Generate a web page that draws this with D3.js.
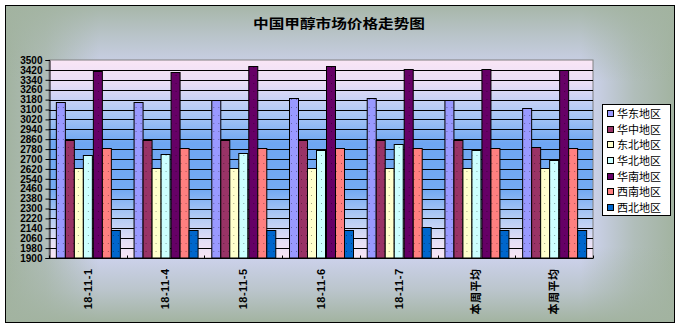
<!DOCTYPE html>
<html><head><meta charset="utf-8">
<script src="https://cdn.jsdelivr.net/npm/d3@7/dist/d3.min.js"></script>
<style>body{margin:0;background:#fff}svg{display:block}</style>
</head><body>
<script>
const categories = ["18-11-1","18-11-4","18-11-5","18-11-6","18-11-7","本周平均","本周平均"];
const seriesNames = ["华东地区","华中地区","东北地区","华北地区","华南地区","西南地区","西北地区"];
const huadong  = [3160,3160,3180,3190,3190,3180,3110];
const huazhong = [2850,2850,2850,2850,2850,2850,2800];
const dongbei  = [2630,2630,2630,2630,2630,2630,2630];
const huabei   = [2730,2740,2750,2770,2820,2770,2690];
const huanan   = [3410,3400,3450,3450,3430,3430,3420];
const xinan    = [2790,2790,2790,2790,2790,2790,2790];
const xibei    = [2130,2130,2130,2130,2150,2130,2130];
const yTicks = d3.range(1900, 3501, 80);
const colors = ["#9999ff","#993366","#ffffcc","#ccffff","#660066","#ff8080","#0066cc"];
const seriesValues = [huadong,huazhong,dongbei,huabei,huanan,xinan,xibei];

const W = 681, H = 328;
const svg = d3.select("body").append("svg").attr("width", W).attr("height", H);
const defs = svg.append("defs");

// outer "from center" rectangular gradient, built from two edge fades
const hg = defs.append("linearGradient").attr("id","hG").attr("x1",0).attr("y1",0).attr("x2",1).attr("y2",0);
[[0,1],[0.06,0.7],[0.14,0],[0.86,0],[0.94,0.7],[1,1]].forEach(s=>hg.append("stop").attr("offset",s[0]).attr("stop-color","#a2b3a0").attr("stop-opacity",s[1]));
const vg = defs.append("linearGradient").attr("id","vG").attr("x1",0).attr("y1",0).attr("x2",0).attr("y2",1);
[[0,0.9],[0.1,0.5],[0.24,0],[0.76,0],[0.9,0.5],[1,1]].forEach(s=>vg.append("stop").attr("offset",s[0]).attr("stop-color","#a2b3a0").attr("stop-opacity",s[1]));
// plot gradient (vertical)
const pg = defs.append("linearGradient").attr("id","plotG").attr("x1",0).attr("y1",0).attr("x2",0).attr("y2",1);
[[0,"#fae6f6"],[0.12,"#e8def6"],[0.28,"#a8c6f4"],[0.42,"#6ea6f2"],[0.66,"#74aaf2"],[0.8,"#b4ccf4"],[0.92,"#e6e0f6"],[1,"#fae6f6"]].forEach(s=>pg.append("stop").attr("offset",s[0]).attr("stop-color",s[1]));
// dot pattern
const pat = defs.append("pattern").attr("id","dots").attr("width",5).attr("height",8).attr("patternUnits","userSpaceOnUse");
pat.append("rect").attr("x",2).attr("y",3).attr("width",1).attr("height",1).attr("fill","rgba(0,0,0,0.35)");

svg.append("rect").attr("x",5.5).attr("y",5.5).attr("width",669).attr("height",317).attr("fill","#d2d6f6");
svg.append("rect").attr("x",5.5).attr("y",5.5).attr("width",669).attr("height",317).attr("fill","url(#hG)");
svg.append("rect").attr("x",5.5).attr("y",5.5).attr("width",669).attr("height",317).attr("fill","url(#vG)");
svg.append("rect").attr("x",5.5).attr("y",5.5).attr("width",669).attr("height",317)
  .attr("fill","none").attr("stroke","#000").attr("stroke-width",1);

const L = 49, R = 593, T = 60, B = 258;
const x0 = d3.scaleBand().domain(d3.range(categories.length)).range([L, R]).paddingInner(1.5/8.5).paddingOuter(0.75/8.5);
const x1 = d3.scaleBand().domain(d3.range(seriesNames.length)).range([0, x0.bandwidth()]);
const y = d3.scaleLinear().domain([1900, 3500]).range([B, T]);

svg.append("rect").attr("x",L).attr("y",T).attr("width",R-L).attr("height",B-T)
  .attr("fill","url(#plotG)").attr("stroke","#808080").attr("stroke-width",1);

// gridlines
svg.append("g").selectAll("line").data(yTicks.slice(1,-1)).join("line")
  .attr("x1",L).attr("x2",R).attr("y1",d=>Math.round(y(d))+0.5).attr("y2",d=>Math.round(y(d))+0.5)
  .attr("stroke","#000").attr("stroke-width",1);

// bars
const groups = svg.append("g").selectAll("g").data(categories).join("g")
  .attr("transform",(d,i)=>`translate(${x0(i)},0)`);
groups.each(function(c,i){
  const g = d3.select(this);
  seriesValues.forEach((vals,s)=>{
    const bx = Math.round(x1(s))+0.5, by = Math.round(y(vals[i]))+0.5;
    const bw = Math.round(x1.bandwidth()), bh = B - by;
    g.append("rect").attr("x",bx).attr("y",by).attr("width",bw).attr("height",bh)
      .attr("fill",colors[s]).attr("stroke","#000").attr("stroke-width",1);
    g.append("rect").attr("x",bx).attr("y",by).attr("width",bw).attr("height",bh)
      .attr("fill","url(#dots)");
  });
});

// y axis
const yAxis = d3.axisLeft(y).tickValues(yTicks).tickFormat(d3.format("d")).tickSize(4).tickPadding(3);
const ya = svg.append("g").attr("transform",`translate(${L+0.5},0)`).call(yAxis);
ya.select(".domain").attr("stroke","#000");
ya.selectAll(".tick line").attr("stroke","#000");
ya.selectAll("text").attr("font-family","Liberation Sans, Arial, sans-serif").attr("font-weight","bold").attr("font-size","10px").attr("fill","#000");

// x axis
const xa = svg.append("g").attr("transform",`translate(0,${B+0.5})`);
xa.append("line").attr("x1",L).attr("x2",R).attr("stroke","#000");
const xb = d3.range(categories.length+1).map(i=> i<categories.length ? x0(i)-x0.step()*x0.paddingInner()/2 : R);
xa.selectAll("line.tk").data(xb).join("line").attr("class","tk")
  .attr("x1",d=>Math.round(d)+0.5).attr("x2",d=>Math.round(d)+0.5).attr("y1",0).attr("y2",-3).attr("stroke","#000");
xa.selectAll("text").data(categories).join("text")
  .attr("transform",(d,i)=>`translate(${x0(i)+x0.bandwidth()/2},10) rotate(-90)`)
  .attr("text-anchor","end").attr("dy","0.35em")
  .attr("font-family","Liberation Sans, 'Noto Sans CJK SC', sans-serif").attr("font-weight","bold").attr("font-size","11px")
  .attr("letter-spacing","0.5px")
  .text(d=>d);

// title
svg.append("text").attr("x",339).attr("y",28).attr("text-anchor","middle")
  .attr("font-family","'Noto Sans CJK SC', sans-serif").attr("font-weight","bold").attr("font-size","13px")
  .attr("textLength",172).attr("lengthAdjust","spacingAndGlyphs").text("中国甲醇市场价格走势图");

// legend
const lg = svg.append("g");
lg.append("rect").attr("x",602.5).attr("y",104.5).attr("width",68).attr("height",111).attr("fill","#fff").attr("stroke","#000");
const ly = d3.scalePoint().domain(seriesNames).range([114, 208]);
seriesNames.forEach((n,i)=>{
  lg.append("rect").attr("x",607.5).attr("y",Math.round(ly(n))-3.5).attr("width",6).attr("height",6)
    .attr("fill",colors[i]).attr("stroke","#000");
  lg.append("text").attr("x",617).attr("y",ly(n)).attr("dy","0.36em")
    .attr("font-family","'Noto Sans CJK SC', sans-serif").attr("font-size","11px").attr("fill","#000").text(n);
});
</script>
</body></html>
